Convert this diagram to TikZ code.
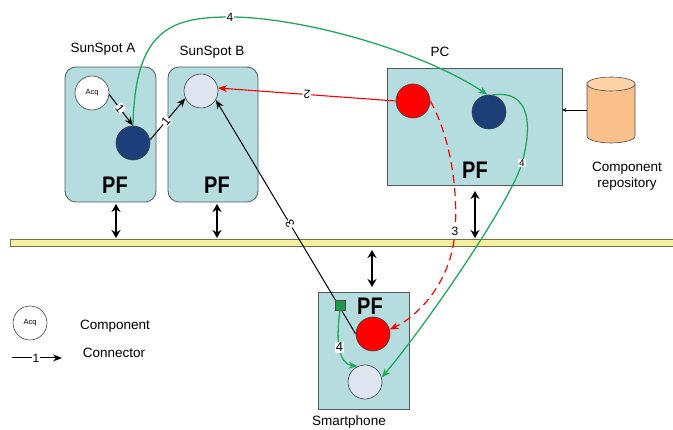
\documentclass[tikz,border=0pt]{standalone}
\usepackage{fontspec}
\setmainfont{Liberation Sans}
\usetikzlibrary{arrows.meta,shapes.geometric,calc}
\definecolor{boxfill}{HTML}{B5DDE0}
\definecolor{boxline}{HTML}{505A5C}
\definecolor{dblue}{HTML}{1C3F7A}
\definecolor{lcirc}{HTML}{DFE6F2}
\definecolor{barfill}{HTML}{F7F0A0}
\definecolor{barline}{HTML}{707050}
\definecolor{gline}{HTML}{1FAA5A}
\definecolor{gsq}{HTML}{1E9A4A}
\definecolor{cylbody}{HTML}{F9C08C}
\definecolor{cylend}{HTML}{FCD2A6}
\tikzset{
  txt/.style={font=\fontsize{13.5}{16}\selectfont, inner sep=0pt, align=center},
  pf/.style={font=\fontsize{20}{20}\selectfont\bfseries, inner sep=0pt},
  devbox/.style={draw=boxline, fill=boxfill, line width=0.8pt, inner sep=0pt},
  comp/.style={circle, draw=black!75, line width=0.6pt, minimum size=34pt, inner sep=0pt},
  lbl/.style={fill=white, text=black, inner sep=0.8pt, font=\fontsize{12}{12}\selectfont},
  conn/.style={line width=1pt, -{Stealth[length=9pt,width=7pt]}},
  dbl/.style={line width=2.2pt, {Stealth[length=8pt,width=9pt]}-{Stealth[length=8pt,width=9pt]}},
}
\begin{document}
\begin{tikzpicture}[x=1pt,y=-1pt]
\useasboundingbox (0,0) rectangle (673,430);
% bus bar
\node[draw=barline, fill=barfill, line width=0.8pt, minimum width=665pt, minimum height=7pt, inner sep=0pt] (bar) at (342.5,242.5) {};
% device boxes
\node[devbox, rounded corners=11pt, minimum width=91pt, minimum height=135pt] (A) at (110.5,134.5) {};
\node[devbox, rounded corners=11pt, minimum width=90pt, minimum height=135pt] (B) at (213,134.5) {};
\node[devbox, minimum width=175pt, minimum height=117pt] (PC) at (474.5,126.5) {};
\node[devbox, minimum width=91pt, minimum height=117pt] (SP) at (363.5,350.5) {};
% titles
\node[txt] (tA) at (103,49) {SunSpot A};
\node[txt] (tB) at (212,52) {SunSpot B};
\node[txt] (tPC) at (440,52) {PC};
\node[txt] (tSP) at (349,422) {Smartphone};
\node[txt] (tRep) at (627,176) {Component\\repository};
% PF texts
\node[pf] (pfA) at (115,185) {\scalebox{1}[1.2]{PF}};
\node[pf] (pfB) at (217,185) {\scalebox{1}[1.2]{PF}};
\node[pf] (pfPC) at (475,170) {\scalebox{1}[1.2]{PF}};
\node[pf] (pfSP) at (370,306) {\scalebox{1}[1.2]{PF}};
% cylinder (component repository)
\node[minimum width=48pt, minimum height=66pt, inner sep=0pt] (rep) at (611,110) {};
\fill[cylbody] (587,84) -- (587,136) arc[start angle=180, end angle=0, x radius=24, y radius=7] -- (635,84) -- cycle;
\draw[black!70, line width=0.6pt] (587,84) -- (587,136) arc[start angle=180, end angle=0, x radius=24, y radius=7] -- (635,84);
\draw[black!70, line width=0.6pt, fill=cylend] (611,84) ellipse[x radius=24, y radius=7];
% components
\node[comp, fill=white, font=\fontsize{7.5}{8}\selectfont] (acq) at (92,93) {Acq};
\node[comp, fill=dblue] (bA) at (133,143) {};
\node[comp, fill=lcirc] (cB) at (201,91) {};
\node[comp, fill=red] (rPC) at (413,101) {};
\node[comp, fill=dblue] (bPC) at (489,112) {};
\node[comp, fill=red] (rSP) at (373,334) {};
\node[comp, fill=lcirc] (lSP) at (365,382) {};
% double arrows to bus
\coordinate (dA1) at (116,204); \coordinate (dA2) at (116,238);
\coordinate (dB1) at (217,204); \coordinate (dB2) at (217,238);
\coordinate (dP1) at (475,191); \coordinate (dP2) at (475,238);
\coordinate (dS1) at (372,250); \coordinate (dS2) at (372,287);
\draw[dbl] (dA1) -- (dA2);
\draw[dbl] (dB1) -- (dB2);
\draw[dbl] (dP1) -- (dP2);
\draw[dbl] (dS1) -- (dS2);
% repository arrow
\draw[line width=0.6pt, -{Stealth[length=4pt,width=4pt]}] (rep.west) -- (PC.east |- rep.west);
% connectors 1
\draw[conn] (acq.-5) -- node[lbl, sloped, pos=0.45] {1} (bA.north);
\draw[conn] (bA.10) -- node[lbl, sloped, pos=0.45] {1} (cB.205);
% connector 2 (red)
\draw[conn, red, line width=1.1pt] (rPC.west) -- node[lbl, sloped, allow upside down] {2} (cB.10);
% connector 3 (black) from smartphone
\draw[conn] (rSP.west) -- node[lbl, sloped, allow upside down, pos=0.47] {3} (cB.-31);
\node[draw=black!70, fill=gsq, minimum size=10pt, inner sep=0pt, line width=0.5pt] (sq) at (340,305) {};
% connector 3 red dashed
\draw[conn, red, line width=1.2pt, dash pattern=on 8pt off 5pt] (rPC.east) .. controls (452,140) and (458,195) .. (455,231) node[lbl] {3} .. controls (452,280) and (420,315) .. (rSP.15);
% green connectors 4
\draw[conn, gline, line width=1.3pt] (bA.north) .. controls (135,30) and (170,17) .. (230,17) node[lbl] {4} .. controls (300,17) and (420,50) .. (bPC.95);
\draw[conn, gline, line width=1.3pt] (bPC.80) .. controls (540,88) and (527,145) .. (522,163) node[lbl, font=\fontsize{10}{10}\selectfont] {4} .. controls (512,199) and (430,320) .. (lSP.15);
\draw[conn, gline, line width=1.3pt] (sq.south) .. controls (335,345) and (340,364) .. (lSP.115) node[lbl, pos=0.45, font=\fontsize{13}{13}\selectfont] {4};
% legend
\node[comp, fill=white, font=\fontsize{7.5}{8}\selectfont] (legc) at (30,323) {Acq};
\node[txt] (legct) at (115,326) {Component};
\coordinate (legl1) at (12,358);
\coordinate (legl2) at (62,358);
\draw[conn] (legl1) -- node[lbl, pos=0.48, font=\fontsize{12}{12}\selectfont] {1} (legl2);
\node[txt] (legnt) at (114,353) {Connector};
\end{tikzpicture}
\end{document}
